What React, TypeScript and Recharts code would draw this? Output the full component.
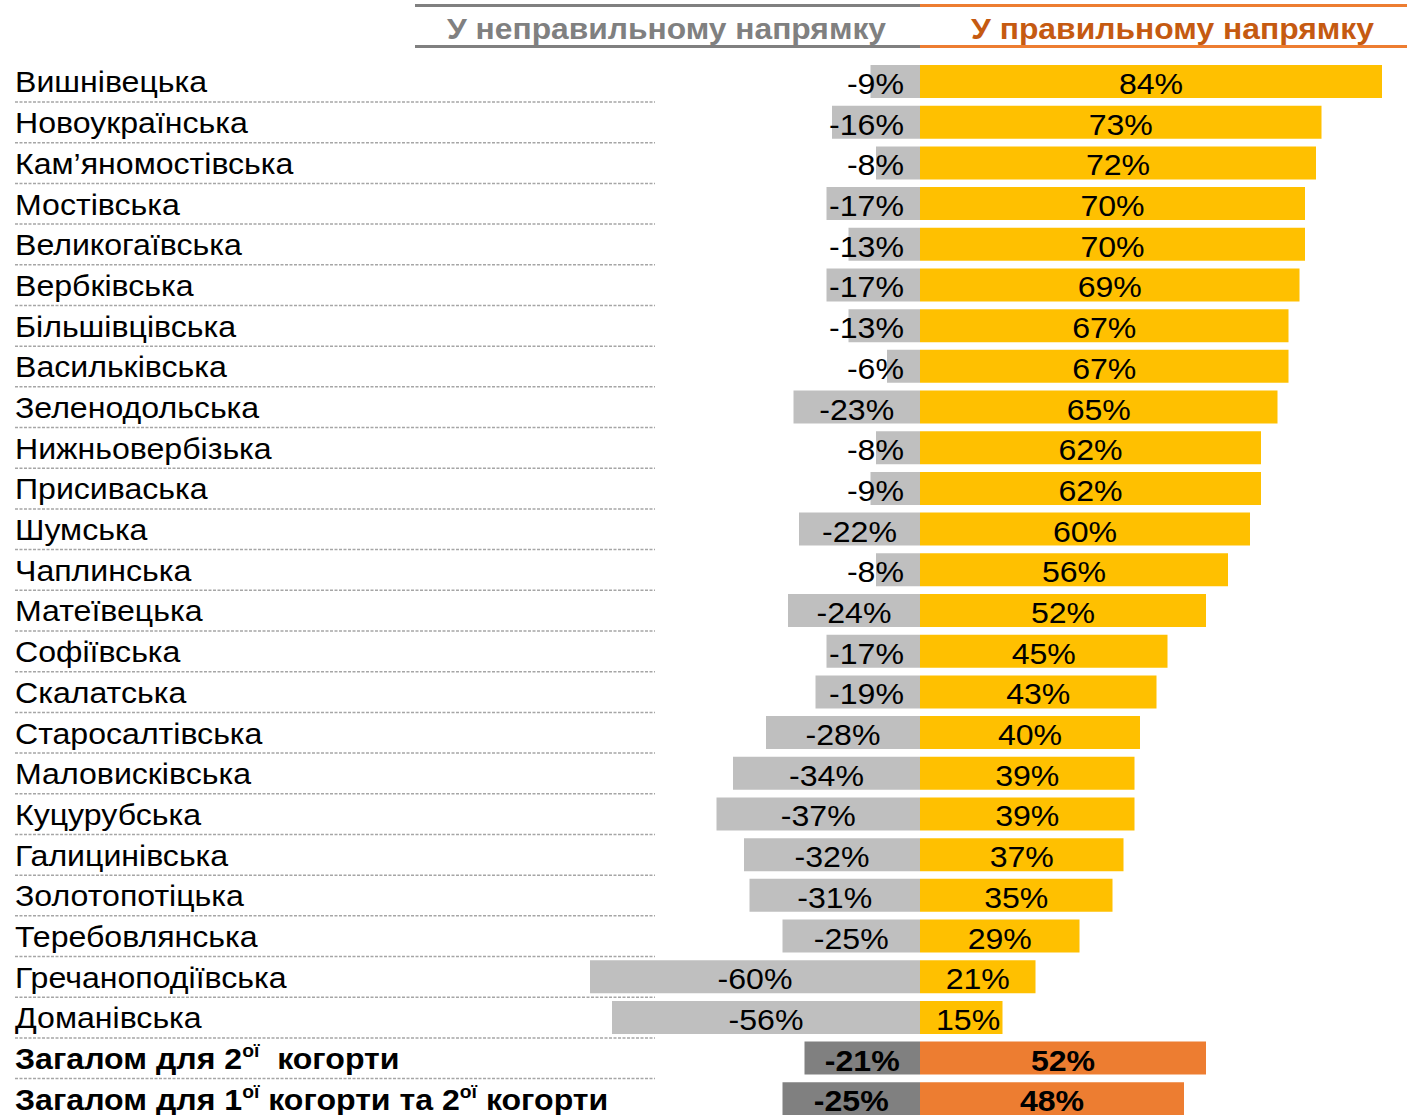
import React from 'react';
import { BarChart, Bar, XAxis, YAxis, Cell, LabelList } from 'recharts';

// Назви громад (останні два рядки — підсумки, ^...^ = верхній індекс)
const hromady = [
  'Вишнівецька',
  'Новоукраїнська',
  'Кам’яномостівська',
  'Мостівська',
  'Великогаївська',
  'Вербківська',
  'Більшівцівська',
  'Васильківська',
  'Зеленодольська',
  'Нижньовербізька',
  'Присиваська',
  'Шумська',
  'Чаплинська',
  'Матеївецька',
  'Софіївська',
  'Скалатська',
  'Старосалтівська',
  'Маловисківська',
  'Куцурубська',
  'Галицинівська',
  'Золотопотіцька',
  'Теребовлянська',
  'Гречаноподіївська',
  'Доманівська',
  'Загалом для 2^ої^  когорти',
  'Загалом для 1^ої^ когорти та 2^ої^ когорти',
];

const nepravylno = [-9, -16, -8, -17, -13, -17, -13, -6, -23, -8, -9, -22, -8, -24, -17, -19, -28, -34, -37, -32, -31, -25, -60, -56, -21, -25];
const pravylno = [84, 73, 72, 70, 70, 69, 67, 67, 65, 62, 62, 60, 56, 52, 45, 43, 40, 39, 39, 37, 35, 29, 21, 15, 52, 48];

const zagolovky = ['У неправильному напрямку', 'У правильному напрямку'];

const dani = hromady.map((name, i) => ({ name, neg: nepravylno[i], pos: pravylno[i] }));
const pidsumok = (i: number) => i >= hromady.length - 2;

const SHRYFT = "'Liberation Sans', Arial, sans-serif";
const SHYRYNA = 1407;
const NUL = 920;
const PX = 5.5;
const ROZTYAG = 1.07; // текст у оригіналі трохи розтягнутий по горизонталі

// приблизна ширина підпису значення
const shyrynaTekstu = (s: string, size: number) => {
  let w = 0;
  for (const ch of s) {
    if (ch === '-') w += 0.333;
    else if (ch === '%') w += 0.889;
    else w += 0.556;
  }
  return w * size * ROZTYAG;
};

const roztyag = (x: number) => `translate(${x},0) scale(${ROZTYAG},1) translate(${-x},0)`;

// назва громади зліва + пунктир під рядком
const NazvaLabel = (props: any) => {
  const { y, height, value, index } = props;
  const cy = y + height / 2;
  const bold = pidsumok(index);
  const parts = String(value).split('^');
  return (
    <g>
      <text
        x={15}
        y={cy + 11}
        fontSize={30}
        fontWeight={bold ? 700 : 400}
        fill="#000"
        fontFamily={SHRYFT}
        transform={roztyag(15)}
        style={{ whiteSpace: 'pre' }}
      >
        {parts.map((p, k) =>
          k % 2 ? (
            <tspan key={k} fontSize={18} dy={-12}>{p}</tspan>
          ) : (
            <tspan key={k} dy={k > 0 ? 12 : 0}>{p}</tspan>
          )
        )}
      </text>
      <line
        x1={15}
        x2={655}
        y1={cy + 20.5}
        y2={cy + 20.5}
        stroke="#A6A6A6"
        strokeWidth={1.5}
        strokeDasharray="3 1.5"
      />
    </g>
  );
};

const ZnachLabel = (cx: number, y: number, text: string, bold: boolean) => (
  <text
    x={cx}
    y={y}
    textAnchor="middle"
    fontSize={30}
    fontWeight={bold ? 700 : 400}
    fontFamily={SHRYFT}
    fill="#000"
    transform={roztyag(cx)}
  >
    {text}
  </text>
);

const NegLabel = (props: any) => {
  const { x, y, width, height, value, index } = props;
  const left = Math.min(x, x + width);
  const right = Math.max(x, x + width);
  const text = `${value}%`;
  const tw = shyrynaTekstu(text, 30);
  const cx = Math.min((left + right) / 2, right - 16 - tw / 2);
  return ZnachLabel(cx, y + height / 2 + 12.5, text, pidsumok(index));
};

const PosLabel = (props: any) => {
  const { x, y, width, height, value, index } = props;
  const left = Math.min(x, x + width);
  const right = Math.max(x, x + width);
  const text = `${value}%`;
  const tw = shyrynaTekstu(text, 30);
  const cx = Math.max((left + right) / 2, left + 16 + tw / 2);
  return ZnachLabel(cx, y + height / 2 + 12.5, text, pidsumok(index));
};

export default function App() {
  return (
    <div
      style={{
        position: 'absolute',
        left: 0,
        top: 0,
        width: SHYRYNA,
        height: 1115,
        overflow: 'hidden',
        background: '#fff',
      }}
    >
      <svg width={SHYRYNA} height={60} style={{ position: 'absolute', left: 0, top: 0 }}>
        <rect x={415} y={4} width={NUL - 415} height={3} fill="#808080" />
        <rect x={NUL} y={4} width={SHYRYNA - NUL} height={3} fill="#ED7D31" />
        <rect x={415} y={45} width={NUL - 415} height={3} fill="#808080" />
        <rect x={NUL} y={45} width={SHYRYNA - NUL} height={3} fill="#ED7D31" />
        <text
          x={447}
          y={39}
          fontSize={29}
          fontWeight={700}
          fill="#808080"
          fontFamily={SHRYFT}
          textLength={439}
          lengthAdjust="spacingAndGlyphs"
        >
          {zagolovky[0]}
        </text>
        <text
          x={971}
          y={39}
          fontSize={29}
          fontWeight={700}
          fill="#C55A11"
          fontFamily={SHRYFT}
          textLength={403}
          lengthAdjust="spacingAndGlyphs"
        >
          {zagolovky[1]}
        </text>
      </svg>
      <BarChart
        width={SHYRYNA}
        height={1119}
        data={dani}
        layout="vertical"
        stackOffset="sign"
        margin={{ top: 61, right: 0, bottom: 0, left: 0 }}
        style={{ position: 'absolute', left: 0, top: 0 }}
      >
        <XAxis
          type="number"
          hide
          domain={[-NUL / PX, (SHYRYNA - NUL) / PX]}
          allowDataOverflow
        />
        <YAxis type="category" dataKey="name" hide />
        <Bar dataKey="neg" stackId="s" barSize={33} isAnimationActive={false}>
          {dani.map((d, i) => (
            <Cell key={d.name} fill={pidsumok(i) ? '#808080' : '#BFBFBF'} />
          ))}
          <LabelList dataKey="name" content={NazvaLabel} />
          <LabelList dataKey="neg" content={NegLabel} />
        </Bar>
        <Bar dataKey="pos" stackId="s" barSize={33} isAnimationActive={false}>
          {dani.map((d, i) => (
            <Cell key={d.name} fill={pidsumok(i) ? '#ED7D31' : '#FFC000'} />
          ))}
          <LabelList dataKey="pos" content={PosLabel} />
        </Bar>
      </BarChart>
    </div>
  );
}
